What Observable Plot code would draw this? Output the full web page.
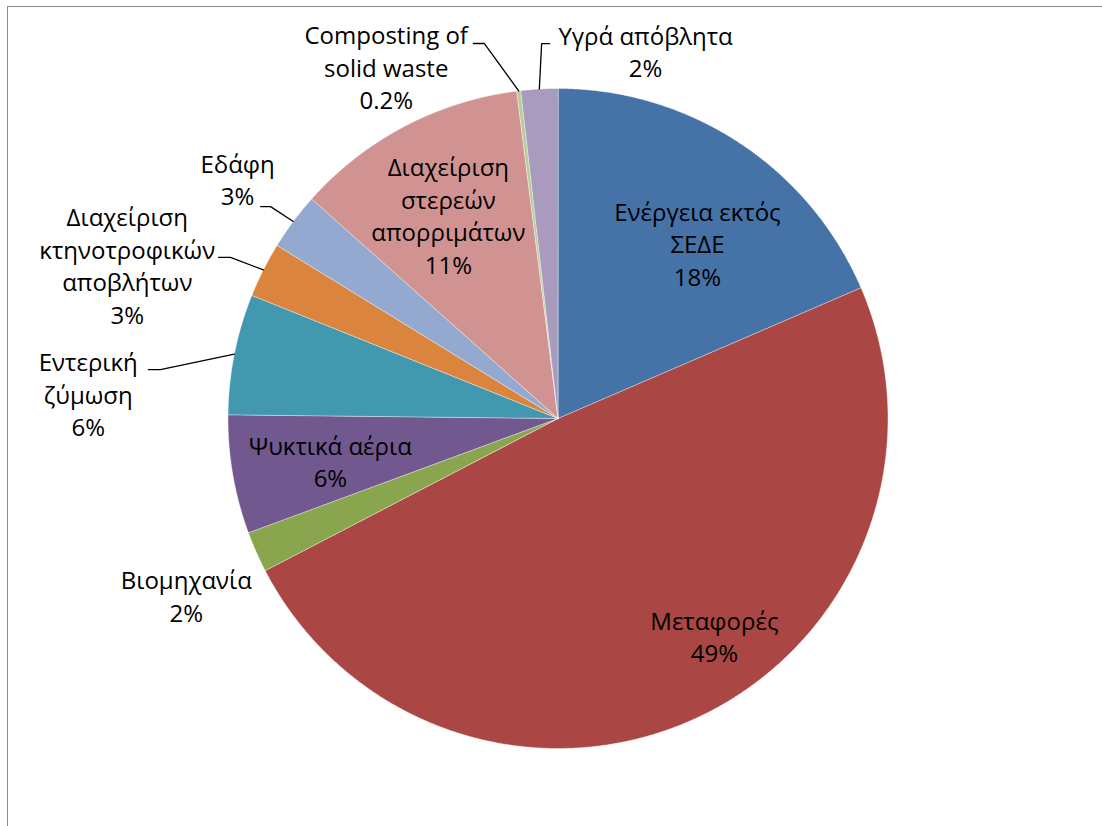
<!DOCTYPE html>
<html><head><meta charset="utf-8">
<script src="https://cdn.jsdelivr.net/npm/d3@7"></script>
<script src="https://cdn.jsdelivr.net/npm/@observablehq/plot@0.6"></script>
<style>
html,body{margin:0;padding:0;background:#fff;overflow:hidden;}
#wrap{position:relative;width:1102px;height:826px;overflow:hidden;}
#wrap svg{position:absolute;left:0;top:0;}
#frame{position:absolute;left:7px;top:6px;width:1300px;height:1000px;border-left:1.5px solid #8a8a8a;border-top:1.5px solid #8a8a8a;pointer-events:none;}
</style></head><body><div id="wrap"><div id="frame"></div></div>
<script>
// ---- data ----
const categories = ["Ενέργεια εκτός ΣΕΔΕ","Μεταφορές","Βιομηχανία","Ψυκτικά αέρια","Εντερική ζύμωση","Διαχείριση κτηνοτροφικών αποβλήτων","Εδάφη","Διαχείριση στερεών απορριμάτων","Composting of solid waste","Υγρά απόβλητα"];
const values = [18.5, 48.8, 2.0, 5.8, 5.9, 2.7, 2.8, 11.4, 0.2, 1.8];
const pctLabels = ["18%","49%","2%","6%","6%","3%","3%","11%","0.2%","2%"];
const labelNames = ["Ενέργεια εκτός\nΣΕΔΕ","Μεταφορές","Βιομηχανία","Ψυκτικά αέρια","Εντερική\nζύμωση","Διαχείριση\nκτηνοτροφικών\nαποβλήτων","Εδάφη","Διαχείριση\nστερεών\nαπορριμάτων","Composting of\nsolid waste","Υγρά απόβλητα"];
const colors = ["#4572A7","#AA4643","#89A54E","#71588F","#4198AF","#DB843D","#93A9CF","#D19392","#B9CD96","#A99BBD"];

// ---- layout (label placement, polar: degrees clockwise from top, radius in pie radii) ----
const labelPolar = [[38.9,0.673],[144.6,0.818],[244.2,1.251],[258.8,0.703],[272.7,1.425],[289.3,1.383],[306.5,1.208],[331.4,0.694],[333.8,1.179],[13.5,1.137]];
const leaderElbow = {4:[277.0,1.214,-12],5:[296.2,1.106,-12],6:[306.4,1.082,-10],8:[348.9,1.158,-11],9:[357.5,1.137,8]};

const W = 1102, H = 826, cx = 557.5, cy = 418, R = 330;
const rad = Math.PI/180;
const polar = (a, r) => ({x: Math.sin(a*rad)*r, y: Math.cos(a*rad)*r});

const arcs = d3.pie().sort(null).value(d => d)(values);
const slicePts = [];
arcs.forEach((a, i) => {
  const a0 = a.startAngle/rad, a1 = a.endAngle/rad;
  slicePts.push({cat: categories[i], x: 0, y: 0});
  const n = Math.max(2, Math.ceil((a1 - a0)/0.25));
  for (let k = 0; k <= n; k++) {
    const p = polar(a0 + (a1 - a0)*k/n, 1);
    slicePts.push({cat: categories[i], x: p.x, y: p.y});
  }
});

const labels = categories.map((c, i) => {
  const p = polar(labelPolar[i][0], labelPolar[i][1]);
  return {text: labelNames[i] + "\n" + pctLabels[i], x: p.x, y: p.y};
});

const leaderPts = [];
Object.entries(leaderElbow).forEach(([i, [ea, er, dx]]) => {
  const a = arcs[i];
  const mid = (a.startAngle + a.endAngle)/2/rad;
  const e = polar(mid, 1), el = polar(ea, er);
  leaderPts.push({id: i, x: e.x, y: e.y});
  leaderPts.push({id: i, x: el.x, y: el.y});
  leaderPts.push({id: i, x: el.x + dx/R, y: el.y});
});

const chart = Plot.plot({
  width: W, height: H,
  marginTop: 0, marginRight: 0, marginBottom: 0, marginLeft: 0,
  x: {domain: [-cx/R, (W - cx)/R], axis: null},
  y: {domain: [-(H - cy)/R, cy/R], axis: null},
  color: {type: "ordinal", domain: categories, range: colors},
  style: {background: "transparent", fontFamily: "'Open Sans', sans-serif"},
  marks: [
    Plot.line(slicePts, {x: "x", y: "y", z: "cat", fill: "cat", stroke: "#ffffff", strokeWidth: 0.6, strokeOpacity: 0.7, curve: "linear-closed"}),
    Plot.line(leaderPts, {x: "x", y: "y", z: "id", stroke: "#000", strokeWidth: 1.3}),
    Plot.text(labels, {x: "x", y: "y", text: "text", fontSize: 24, lineHeight: 1.354, dy: -3, fill: "#000"})
  ]
});
document.getElementById("wrap").prepend(chart);
</script>
</body></html>
